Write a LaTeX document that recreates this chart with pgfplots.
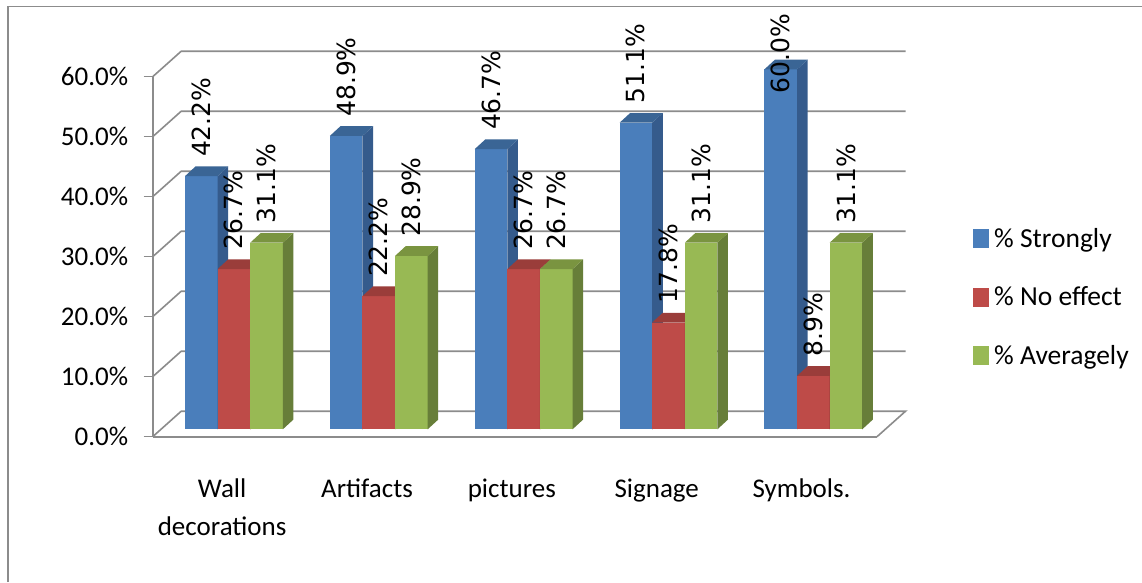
\documentclass[border=0pt]{standalone}
\usepackage{pgfplots}
\usepackage{fontspec}
\pgfplotsset{compat=1.18}
\setmainfont{Carlito}
\newfontfamily\labelfont{DejaVu Sans}

\definecolor{blueF}{HTML}{4A7EBB}
\definecolor{blueS}{HTML}{355B8C}
\definecolor{blueT}{HTML}{3A6595}
\definecolor{redF}{HTML}{BE4B48}
\definecolor{redS}{HTML}{8C3836}
\definecolor{redT}{HTML}{9A3D3A}
\definecolor{greenF}{HTML}{98B954}
\definecolor{greenS}{HTML}{677E39}
\definecolor{greenT}{HTML}{7A9440}
\definecolor{frameGray}{HTML}{8C8C8C}

% geometry of the 3D look, in axis units (x: categories, y: percent)
\def\wallX{0.197}\def\wallY{4.25}   % depth of the floor
\def\barX{0.073}\def\barY{1.62}     % depth of one bar
\def\barW{0.225}                    % width of one bar
\def\barD{0.223}                    % inset of the first bar in a group
\def\baseY{1.23}                    % height of the bar base above the axis

% \threedbar{group}{slot}{value}{front}{side}{top}{label lift}
\newcommand{\threedbar}[7]{%
  \pgfmathsetmacro{\xa}{#1+\barD+#2*\barW}%
  \pgfmathsetmacro{\xb}{\xa+\barW}%
  \pgfmathsetmacro{\xc}{\xa+0.5*\barW}%
  \pgfmathsetmacro{\xd}{\xb+\barX}%
  \pgfmathsetmacro{\xe}{\xa+\barX}%
  \pgfmathsetmacro{\yt}{\baseY+#3}%
  \pgfmathsetmacro{\ytb}{\yt+\barY}%
  \pgfmathsetmacro{\ybb}{\baseY+\barY}%
  \addplot[forget plot,fill=#4,draw=none] coordinates {(\xa,\baseY)(\xb,\baseY)(\xb,\yt)(\xa,\yt)} --cycle;
  \addplot[forget plot,fill=#5,draw=none] coordinates {(\xb,\baseY)(\xd,\ybb)(\xd,\ytb)(\xb,\yt)} --cycle;
  \addplot[forget plot,fill=#6,draw=none] coordinates {(\xa,\yt)(\xb,\yt)(\xd,\ytb)(\xe,\ytb)} --cycle;
  \addplot[forget plot,draw=none,mark=none,point meta=#3,
    nodes near coords={\labelfont\pgfmathprintnumber[fixed,fixed zerofill,precision=1]{\pgfplotspointmeta}\%},
    every node near coord/.append style={rotate=90,anchor=west,inner sep=0pt,font=\fontsize{25}{25}\selectfont,text=black,xshift=#7pt}]
    coordinates {(\xc,\yt)};
}

\begin{document}
\begin{tikzpicture}[x=1pt,y=1pt]
\path[use as bounding box,fill=white] (0,0) rectangle (1142,582);
\draw[frameGray,line width=1.4pt] (8,0) -- (8,575.5) -- (1142,575.5);
\begin{axis}[
  at={(152.7pt,145.3pt)},anchor=south west,
  scale only axis,width=724.3pt,height=360pt,
  clip=false,
  xmin=0,xmax=5,ymin=0,ymax=60,
  axis x line*=bottom,axis y line*=left,
  axis line style={frameGray,line width=1.6pt,-},
  tick style={frameGray,line width=1.4pt},
  tick align=outside,
  major tick length=9pt,
  ytick={0,10,...,60},
  yticklabel={\pgfmathprintnumber[fixed,fixed zerofill,precision=1]{\tick}\%},
  /pgf/number format/assume math mode=true,
  yticklabel style={font=\fontsize{27}{27}\selectfont,xshift=-12pt,/pgf/number format/assume math mode=true},
  xtick={0.5,1.5,2.5,3.5,4.5},
  x tick style={draw=none},
  minor xtick={0,1,2,3,4,5},
  minor x tick style={frameGray,line width=1.4pt},
  minor tick length=11pt,
  xticklabels={{Wall\\decorations},Artifacts,pictures,Signage,Symbols.},
  xticklabel style={font=\fontsize{27}{38}\selectfont,align=center,anchor=north,yshift=-30pt,xshift=-3pt},
  legend style={at={(axis cs:5.66,23.3)},anchor=west,draw=none,fill=none,inner sep=0pt,
    row sep=38pt,nodes={inner sep=0pt,anchor=west,font=\fontsize{27.5}{27.5}\selectfont},
    /tikz/every odd column/.style={column sep=6pt}},
]
% floor and back wall
\addplot[forget plot,frameGray,line width=1.6pt] coordinates {(0,0)(\wallX,\wallY)(5.197,\wallY)(5,0)};
\addplot[forget plot,frameGray,line width=1.6pt] coordinates {(0,10)(\wallX,14.25)(5.197,14.25)};
\addplot[forget plot,frameGray,line width=1.6pt] coordinates {(0,20)(\wallX,24.25)(5.197,24.25)};
\addplot[forget plot,frameGray,line width=1.6pt] coordinates {(0,30)(\wallX,34.25)(5.197,34.25)};
\addplot[forget plot,frameGray,line width=1.6pt] coordinates {(0,40)(\wallX,44.25)(5.197,44.25)};
\addplot[forget plot,frameGray,line width=1.6pt] coordinates {(0,50)(\wallX,54.25)(5.197,54.25)};
\addplot[forget plot,frameGray,line width=1.6pt] coordinates {(0,60)(\wallX,64.25)(5.197,64.25)};

% group, slot, value, colours, label lift
\threedbar{0}{0}{42.2}{blueF}{blueS}{blueT}{19}
\threedbar{0}{1}{26.7}{redF}{redS}{redT}{19}
\threedbar{0}{2}{31.1}{greenF}{greenS}{greenT}{19}
\threedbar{1}{0}{48.9}{blueF}{blueS}{blueT}{19}
\threedbar{1}{1}{22.2}{redF}{redS}{redT}{19}
\threedbar{1}{2}{28.9}{greenF}{greenS}{greenT}{19}
\threedbar{2}{0}{46.7}{blueF}{blueS}{blueT}{19}
\threedbar{2}{1}{26.7}{redF}{redS}{redT}{19}
\threedbar{2}{2}{26.7}{greenF}{greenS}{greenT}{19}
\threedbar{3}{0}{51.1}{blueF}{blueS}{blueT}{19}
\threedbar{3}{1}{17.8}{redF}{redS}{redT}{19}
\threedbar{3}{2}{31.1}{greenF}{greenS}{greenT}{19}
\threedbar{4}{0}{60.0}{blueF}{blueS}{blueT}{-24}
\threedbar{4}{1}{8.9}{redF}{redS}{redT}{19}
\threedbar{4}{2}{31.1}{greenF}{greenS}{greenT}{19}

\addlegendimage{legend image code/.code={\fill[blueF] (0pt,-9pt) rectangle (15pt,9pt);}}
\addlegendimage{legend image code/.code={\fill[redF] (0pt,-9pt) rectangle (15pt,9pt);}}
\addlegendimage{legend image code/.code={\fill[greenF] (0pt,-9pt) rectangle (15pt,9pt);}}
\legend{\% Strongly,\% No effect,\% Averagely}
\end{axis}
\end{tikzpicture}
\end{document}
